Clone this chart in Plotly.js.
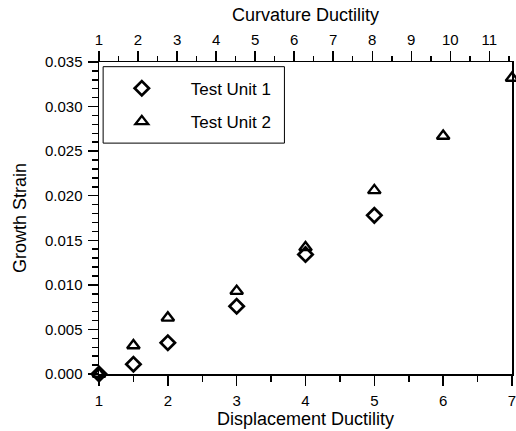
<!DOCTYPE html>
<html>
<head>
<meta charset="utf-8">
<script src="https://cdn.plot.ly/plotly-3.0.1.min.js"></script>
<style>html,body{margin:0;padding:0;background:#fff;}#chart{width:516px;height:431px;}</style>
</head>
<body>
<div id="chart"></div>
<script>
// Data
var dispDuctility1 = [1, 1.5, 2, 3, 4, 5];
var growthStrain1 = [0.0, 0.0011, 0.0035, 0.0076, 0.0134, 0.0178];
var dispDuctility2 = [1, 1.5, 2, 3, 4, 5, 6, 7];
var growthStrain2 = [0.0, 0.0032, 0.0063, 0.0093, 0.0142, 0.0206, 0.0267, 0.0332];
var seriesNames = ["Test Unit 1", "Test Unit 2"];
var curvatureTicks = [1, 2, 3, 4, 5, 6, 7, 8, 9, 10, 11];

var FONT = "Liberation Sans, Arial, Helvetica, sans-serif";
var pad = "\u00a0\u00a0\u00a0\u00a0";

var traces = [
  {
    x: dispDuctility1, y: growthStrain1, name: pad + seriesNames[0],
    type: "scatter", mode: "markers", cliponaxis: false, legendgroup: "a",
    marker: {symbol: "diamond-open", size: 11, color: "#000", line: {width: 2.7, color: "#000"}}
  },
  {
    x: dispDuctility2, y: growthStrain2, name: pad + seriesNames[1],
    type: "scatter", mode: "markers", cliponaxis: false, legendgroup: "b",
    marker: {symbol: "triangle-up-open", size: 11, color: "#000", line: {width: 2.4, color: "#000"}}
  },
  {
    // empty trace so that the top (curvature ductility) axis is drawn
    x: [], y: [], xaxis: "x2", yaxis: "y", type: "scatter", mode: "markers",
    showlegend: false, hoverinfo: "skip"
  }
];

var layout = {
  width: 516, height: 431,
  margin: {l: 99, r: 4, t: 62, b: 57},
  paper_bgcolor: "#fff", plot_bgcolor: "#fff",
  font: {family: FONT, size: 15, color: "#000"},
  showlegend: true,
  legend: {
    x: 0.031, y: 0.972, xanchor: "left", yanchor: "top",
    bgcolor: "rgba(0,0,0,0)", borderwidth: 0,
    font: {family: FONT, size: 17, color: "#000"},
    itemwidth: 50, tracegroupgap: 8
  },
  shapes: [
    {type: "rect", xref: "paper", yref: "paper", x0: 0.01, x1: 0.449, y0: 0.74, y1: 0.985,
     line: {color: "#000", width: 1}, fillcolor: "rgba(0,0,0,0)"}
  ],
  xaxis: {
    range: [1, 7], dtick: 1, tick0: 1,
    showgrid: false, zeroline: false,
    showline: true, linecolor: "#000", linewidth: 1.5,
    ticks: "outside", ticklen: 10, tickwidth: 1.5, tickcolor: "#000",
    minor: {dtick: 0.5, ticks: "outside", ticklen: 6, tickwidth: 1.5, tickcolor: "#000", showgrid: false},
    tickfont: {size: 15}, ticklabeloverflow: "allow", ticklabelstandoff: 2,
    title: {text: "Displacement Ductility", font: {size: 18}, standoff: 5}
  },
  xaxis2: {
    overlaying: "x", side: "top", anchor: "y",
    range: [1, 11.58], tickvals: curvatureTicks,
    showgrid: false, zeroline: false,
    showline: true, linecolor: "#000", linewidth: 1.5,
    ticks: "outside", ticklen: 10, tickwidth: 1.5, tickcolor: "#000",
    minor: {dtick: 0.5, tick0: 1, ticks: "outside", ticklen: 5, tickwidth: 1.5, tickcolor: "#000", showgrid: false},
    tickfont: {size: 15}, ticklabeloverflow: "allow",
    title: {text: "Curvature Ductility", font: {size: 18}, standoff: 4}
  },
  yaxis: {
    range: [0, 0.035], dtick: 0.005, tick0: 0, tickformat: ".3f",
    showgrid: false, zeroline: false,
    showline: true, linecolor: "#000", linewidth: 1.5, mirror: true,
    ticks: "outside", ticklen: 10, tickwidth: 1.5, tickcolor: "#000",
    minor: {dtick: 0.001, ticks: "outside", ticklen: 6, tickwidth: 1.5, tickcolor: "#000", showgrid: false},
    tickfont: {size: 15}, ticklabelstandoff: 2,
    title: {text: "Growth Strain", font: {size: 18}, standoff: 13}
  }
};

Plotly.newPlot("chart", traces, layout, {displayModeBar: false, staticPlot: true});
</script>
</body>
</html>
